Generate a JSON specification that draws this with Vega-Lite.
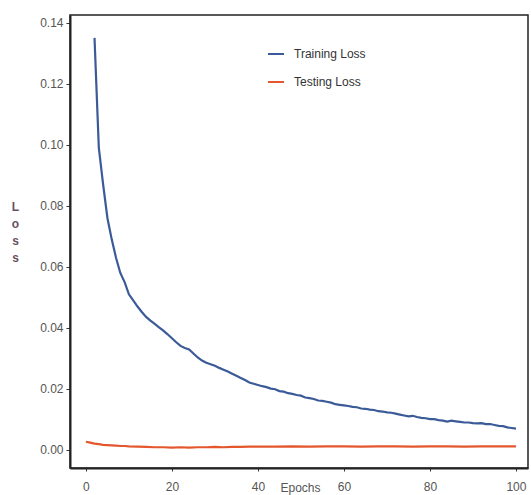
{
  "$schema": "https://vega.github.io/schema/vega-lite/v6.json",
  "width": 458,
  "height": 453,
  "autosize": "none",
  "padding": {"left": 70, "top": 15, "right": 3, "bottom": 27},
  "background": "white",
  "config": {
    "view": {"stroke": "#222", "strokeWidth": 1.5},
    "font": "Liberation Sans"
  },
  "data": {"values": [
    {"epoch": 2, "loss": 0.135, "series": "Training Loss"},
    {"epoch": 3, "loss": 0.099, "series": "Training Loss"},
    {"epoch": 4, "loss": 0.087, "series": "Training Loss"},
    {"epoch": 5, "loss": 0.076, "series": "Training Loss"},
    {"epoch": 6, "loss": 0.069, "series": "Training Loss"},
    {"epoch": 7, "loss": 0.063, "series": "Training Loss"},
    {"epoch": 8, "loss": 0.058, "series": "Training Loss"},
    {"epoch": 9, "loss": 0.055, "series": "Training Loss"},
    {"epoch": 10, "loss": 0.051, "series": "Training Loss"},
    {"epoch": 11, "loss": 0.049, "series": "Training Loss"},
    {"epoch": 12, "loss": 0.047, "series": "Training Loss"},
    {"epoch": 13, "loss": 0.0452, "series": "Training Loss"},
    {"epoch": 14, "loss": 0.0436, "series": "Training Loss"},
    {"epoch": 15, "loss": 0.0424, "series": "Training Loss"},
    {"epoch": 16, "loss": 0.0413, "series": "Training Loss"},
    {"epoch": 17, "loss": 0.0402, "series": "Training Loss"},
    {"epoch": 18, "loss": 0.0391, "series": "Training Loss"},
    {"epoch": 19, "loss": 0.0379, "series": "Training Loss"},
    {"epoch": 20, "loss": 0.0366, "series": "Training Loss"},
    {"epoch": 21, "loss": 0.0353, "series": "Training Loss"},
    {"epoch": 22, "loss": 0.0341, "series": "Training Loss"},
    {"epoch": 23, "loss": 0.0334, "series": "Training Loss"},
    {"epoch": 24, "loss": 0.0329, "series": "Training Loss"},
    {"epoch": 25, "loss": 0.0316, "series": "Training Loss"},
    {"epoch": 26, "loss": 0.0303, "series": "Training Loss"},
    {"epoch": 27, "loss": 0.0293, "series": "Training Loss"},
    {"epoch": 28, "loss": 0.0286, "series": "Training Loss"},
    {"epoch": 29, "loss": 0.0281, "series": "Training Loss"},
    {"epoch": 30, "loss": 0.0276, "series": "Training Loss"},
    {"epoch": 31, "loss": 0.0269, "series": "Training Loss"},
    {"epoch": 32, "loss": 0.0263, "series": "Training Loss"},
    {"epoch": 33, "loss": 0.0257, "series": "Training Loss"},
    {"epoch": 34, "loss": 0.025, "series": "Training Loss"},
    {"epoch": 35, "loss": 0.0243, "series": "Training Loss"},
    {"epoch": 36, "loss": 0.0236, "series": "Training Loss"},
    {"epoch": 37, "loss": 0.0229, "series": "Training Loss"},
    {"epoch": 38, "loss": 0.0221, "series": "Training Loss"},
    {"epoch": 39, "loss": 0.0217, "series": "Training Loss"},
    {"epoch": 40, "loss": 0.0213, "series": "Training Loss"},
    {"epoch": 41, "loss": 0.0209, "series": "Training Loss"},
    {"epoch": 42, "loss": 0.0206, "series": "Training Loss"},
    {"epoch": 43, "loss": 0.0201, "series": "Training Loss"},
    {"epoch": 44, "loss": 0.0199, "series": "Training Loss"},
    {"epoch": 45, "loss": 0.0193, "series": "Training Loss"},
    {"epoch": 46, "loss": 0.0191, "series": "Training Loss"},
    {"epoch": 47, "loss": 0.0186, "series": "Training Loss"},
    {"epoch": 48, "loss": 0.0184, "series": "Training Loss"},
    {"epoch": 49, "loss": 0.018, "series": "Training Loss"},
    {"epoch": 50, "loss": 0.0178, "series": "Training Loss"},
    {"epoch": 51, "loss": 0.0172, "series": "Training Loss"},
    {"epoch": 52, "loss": 0.017, "series": "Training Loss"},
    {"epoch": 53, "loss": 0.0167, "series": "Training Loss"},
    {"epoch": 54, "loss": 0.0162, "series": "Training Loss"},
    {"epoch": 55, "loss": 0.0161, "series": "Training Loss"},
    {"epoch": 56, "loss": 0.0158, "series": "Training Loss"},
    {"epoch": 57, "loss": 0.0155, "series": "Training Loss"},
    {"epoch": 58, "loss": 0.015, "series": "Training Loss"},
    {"epoch": 59, "loss": 0.0148, "series": "Training Loss"},
    {"epoch": 60, "loss": 0.0146, "series": "Training Loss"},
    {"epoch": 61, "loss": 0.0144, "series": "Training Loss"},
    {"epoch": 62, "loss": 0.0141, "series": "Training Loss"},
    {"epoch": 63, "loss": 0.0140, "series": "Training Loss"},
    {"epoch": 64, "loss": 0.0136, "series": "Training Loss"},
    {"epoch": 65, "loss": 0.0135, "series": "Training Loss"},
    {"epoch": 66, "loss": 0.0132, "series": "Training Loss"},
    {"epoch": 67, "loss": 0.0131, "series": "Training Loss"},
    {"epoch": 68, "loss": 0.0127, "series": "Training Loss"},
    {"epoch": 69, "loss": 0.0126, "series": "Training Loss"},
    {"epoch": 70, "loss": 0.0123, "series": "Training Loss"},
    {"epoch": 71, "loss": 0.0122, "series": "Training Loss"},
    {"epoch": 72, "loss": 0.0119, "series": "Training Loss"},
    {"epoch": 73, "loss": 0.0116, "series": "Training Loss"},
    {"epoch": 74, "loss": 0.0113, "series": "Training Loss"},
    {"epoch": 75, "loss": 0.011, "series": "Training Loss"},
    {"epoch": 76, "loss": 0.0112, "series": "Training Loss"},
    {"epoch": 77, "loss": 0.0108, "series": "Training Loss"},
    {"epoch": 78, "loss": 0.0105, "series": "Training Loss"},
    {"epoch": 79, "loss": 0.0104, "series": "Training Loss"},
    {"epoch": 80, "loss": 0.0101, "series": "Training Loss"},
    {"epoch": 81, "loss": 0.0101, "series": "Training Loss"},
    {"epoch": 82, "loss": 0.0098, "series": "Training Loss"},
    {"epoch": 83, "loss": 0.0096, "series": "Training Loss"},
    {"epoch": 84, "loss": 0.0093, "series": "Training Loss"},
    {"epoch": 85, "loss": 0.0096, "series": "Training Loss"},
    {"epoch": 86, "loss": 0.0094, "series": "Training Loss"},
    {"epoch": 87, "loss": 0.0092, "series": "Training Loss"},
    {"epoch": 88, "loss": 0.009, "series": "Training Loss"},
    {"epoch": 89, "loss": 0.009, "series": "Training Loss"},
    {"epoch": 90, "loss": 0.0088, "series": "Training Loss"},
    {"epoch": 91, "loss": 0.0087, "series": "Training Loss"},
    {"epoch": 92, "loss": 0.0088, "series": "Training Loss"},
    {"epoch": 93, "loss": 0.0085, "series": "Training Loss"},
    {"epoch": 94, "loss": 0.0085, "series": "Training Loss"},
    {"epoch": 95, "loss": 0.0082, "series": "Training Loss"},
    {"epoch": 96, "loss": 0.0079, "series": "Training Loss"},
    {"epoch": 97, "loss": 0.0078, "series": "Training Loss"},
    {"epoch": 98, "loss": 0.0074, "series": "Training Loss"},
    {"epoch": 99, "loss": 0.0072, "series": "Training Loss"},
    {"epoch": 100, "loss": 0.007, "series": "Training Loss"},
    {"epoch": 0, "loss": 0.0027, "series": "Testing Loss"},
    {"epoch": 1, "loss": 0.0024, "series": "Testing Loss"},
    {"epoch": 2, "loss": 0.0021, "series": "Testing Loss"},
    {"epoch": 3, "loss": 0.0019, "series": "Testing Loss"},
    {"epoch": 4, "loss": 0.0017, "series": "Testing Loss"},
    {"epoch": 5, "loss": 0.0016, "series": "Testing Loss"},
    {"epoch": 6, "loss": 0.0015, "series": "Testing Loss"},
    {"epoch": 7, "loss": 0.0014, "series": "Testing Loss"},
    {"epoch": 8, "loss": 0.0013, "series": "Testing Loss"},
    {"epoch": 9, "loss": 0.0013, "series": "Testing Loss"},
    {"epoch": 10, "loss": 0.0012, "series": "Testing Loss"},
    {"epoch": 12, "loss": 0.0011, "series": "Testing Loss"},
    {"epoch": 14, "loss": 0.001, "series": "Testing Loss"},
    {"epoch": 16, "loss": 0.0009, "series": "Testing Loss"},
    {"epoch": 18, "loss": 0.0009, "series": "Testing Loss"},
    {"epoch": 20, "loss": 0.0008, "series": "Testing Loss"},
    {"epoch": 22, "loss": 0.0009, "series": "Testing Loss"},
    {"epoch": 24, "loss": 0.0008, "series": "Testing Loss"},
    {"epoch": 26, "loss": 0.0009, "series": "Testing Loss"},
    {"epoch": 28, "loss": 0.0009, "series": "Testing Loss"},
    {"epoch": 30, "loss": 0.001, "series": "Testing Loss"},
    {"epoch": 32, "loss": 0.0009, "series": "Testing Loss"},
    {"epoch": 34, "loss": 0.001, "series": "Testing Loss"},
    {"epoch": 36, "loss": 0.001, "series": "Testing Loss"},
    {"epoch": 38, "loss": 0.0011, "series": "Testing Loss"},
    {"epoch": 40, "loss": 0.0011, "series": "Testing Loss"},
    {"epoch": 44, "loss": 0.0011, "series": "Testing Loss"},
    {"epoch": 48, "loss": 0.0012, "series": "Testing Loss"},
    {"epoch": 52, "loss": 0.0011, "series": "Testing Loss"},
    {"epoch": 56, "loss": 0.0012, "series": "Testing Loss"},
    {"epoch": 60, "loss": 0.0012, "series": "Testing Loss"},
    {"epoch": 64, "loss": 0.0011, "series": "Testing Loss"},
    {"epoch": 68, "loss": 0.0012, "series": "Testing Loss"},
    {"epoch": 72, "loss": 0.0012, "series": "Testing Loss"},
    {"epoch": 76, "loss": 0.0011, "series": "Testing Loss"},
    {"epoch": 80, "loss": 0.0012, "series": "Testing Loss"},
    {"epoch": 84, "loss": 0.0012, "series": "Testing Loss"},
    {"epoch": 88, "loss": 0.0011, "series": "Testing Loss"},
    {"epoch": 92, "loss": 0.0012, "series": "Testing Loss"},
    {"epoch": 96, "loss": 0.0012, "series": "Testing Loss"},
    {"epoch": 100, "loss": 0.0012, "series": "Testing Loss"}
  ]},
  "mark": {"type": "line", "strokeWidth": 2.2, "interpolate": "linear"},
  "encoding": {
    "x": {
      "field": "epoch",
      "type": "quantitative",
      "scale": {"domain": [-3.7, 102.8], "nice": false, "zero": false},
      "axis": {
        "values": [0, 20, 40, 60, 80, 100],
        "grid": false,
        "domainColor": "#222",
        "domainWidth": 2,
        "tickColor": "#333",
        "tickSize": 3,
        "labelPadding": 10,
        "labelFontSize": 12,
        "labelColor": "#555",
        "labelFont": "Liberation Sans",
        "title": "Epochs",
        "titleFont": "Liberation Sans",
        "titleFontSize": 12,
        "titleFontWeight": "normal",
        "titleColor": "#555",
        "titleAngle": 0,
        "titleX": 230,
        "titleY": 19,
        "titleAlign": "center",
        "titleBaseline": "middle"
      }
    },
    "y": {
      "field": "loss",
      "type": "quantitative",
      "scale": {"domain": [-0.0059, 0.1425], "nice": false, "zero": false},
      "axis": {
        "values": [0, 0.02, 0.04, 0.06, 0.08, 0.1, 0.12, 0.14],
        "format": ".2f",
        "grid": false,
        "domainColor": "#222",
        "domainWidth": 2,
        "tickColor": "#333",
        "tickSize": 4,
        "labelPadding": 3,
        "labelFontSize": 12,
        "labelColor": "#555",
        "labelFont": "Liberation Sans",
        "title": ["L", "o", "s", "s"],
        "titleFont": "Liberation Sans",
        "titleFontSize": 12,
        "titleFontWeight": "bold",
        "titleColor": "#6a5060",
        "titleAngle": 0,
        "titleX": -55,
        "titleY": 191,
        "titleAlign": "center",
        "titleBaseline": "middle",
        "titleLineHeight": 17
      }
    },
    "color": {
      "field": "series",
      "type": "nominal",
      "sort": ["Training Loss", "Testing Loss"],
      "scale": {"domain": ["Training Loss", "Testing Loss"], "range": ["#3b5a98", "#e4572e"]},
      "legend": {
        "title": null,
        "orient": "none",
        "legendX": 197,
        "legendY": 30,
        "symbolType": "stroke",
        "symbolSize": 256,
        "symbolStrokeWidth": 2,
        "labelFont": "Liberation Sans",
        "labelFontSize": 12,
        "labelColor": "#333",
        "labelOffset": 9,
        "rowPadding": 13
      }
    }
  }
}
